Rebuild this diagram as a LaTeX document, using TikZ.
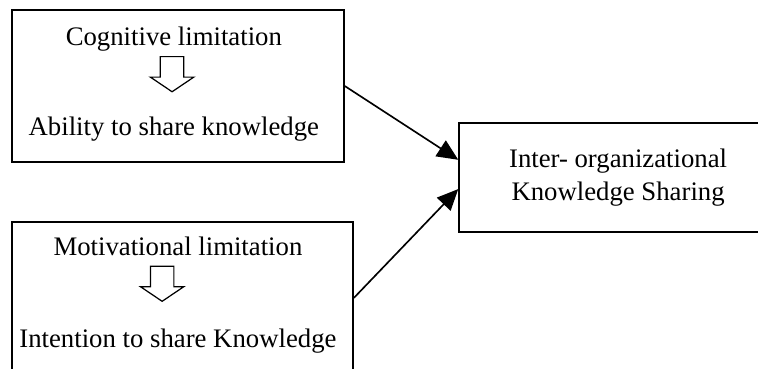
\documentclass[tikz,border=0pt]{standalone}
\usepackage{fontspec}
\setmainfont{Liberation Serif}
\usetikzlibrary{arrows.meta,shapes.arrows}

\tikzset{
  box/.style={draw, line width=0.9pt, minimum height=2.60cm},
  label/.style={anchor=base, font=\fontsize{13}{16.2}\selectfont},
  blockarrow/.style={single arrow, draw, line width=0.6pt, shape border rotate=270,
    inner sep=0.19cm, minimum height=0.60cm, single arrow head extend=0.17cm,
    single arrow tip angle=112},
}

\begin{document}
\begin{tikzpicture}[line width=0.8pt]
\clip (0,0) rectangle (12.95,-6.30);

% left boxes
\node[box, minimum width=5.67cm] (cog) at (3.04,-1.47) {};
\node[label] (coglim) at (2.97,-0.77) {Cognitive limitation};
\node[blockarrow] (cogarr) at (2.94,-1.20) {};
\node[label] (ability) at (2.97,-2.31) {Ability to share knowledge};

\node[box, minimum width=5.82cm] (mot) at (3.12,-5.09) {};
\node[label] (motlim) at (3.04,-4.36) {Motivational limitation};
\node[blockarrow] (motarr) at (2.77,-4.78) {};
\node[label] (intention) at (3.04,-5.93) {Intention to share Knowledge};

% right box
\node[draw, line width=0.9pt, minimum width=5.43cm, minimum height=1.86cm, align=center,
  font=\fontsize{13}{16.2}\selectfont] (inter) at (10.56,-3.03) {Inter- organizational\\Knowledge Sharing};

\draw[-{Triangle[length=0.36cm,width=0.32cm]}] (cog.east) -- ([yshift=0.30cm]inter.west);
\draw[-{Triangle[length=0.36cm,width=0.32cm]}] (mot.east) -- ([yshift=-0.20cm]inter.west);
\end{tikzpicture}
\end{document}
